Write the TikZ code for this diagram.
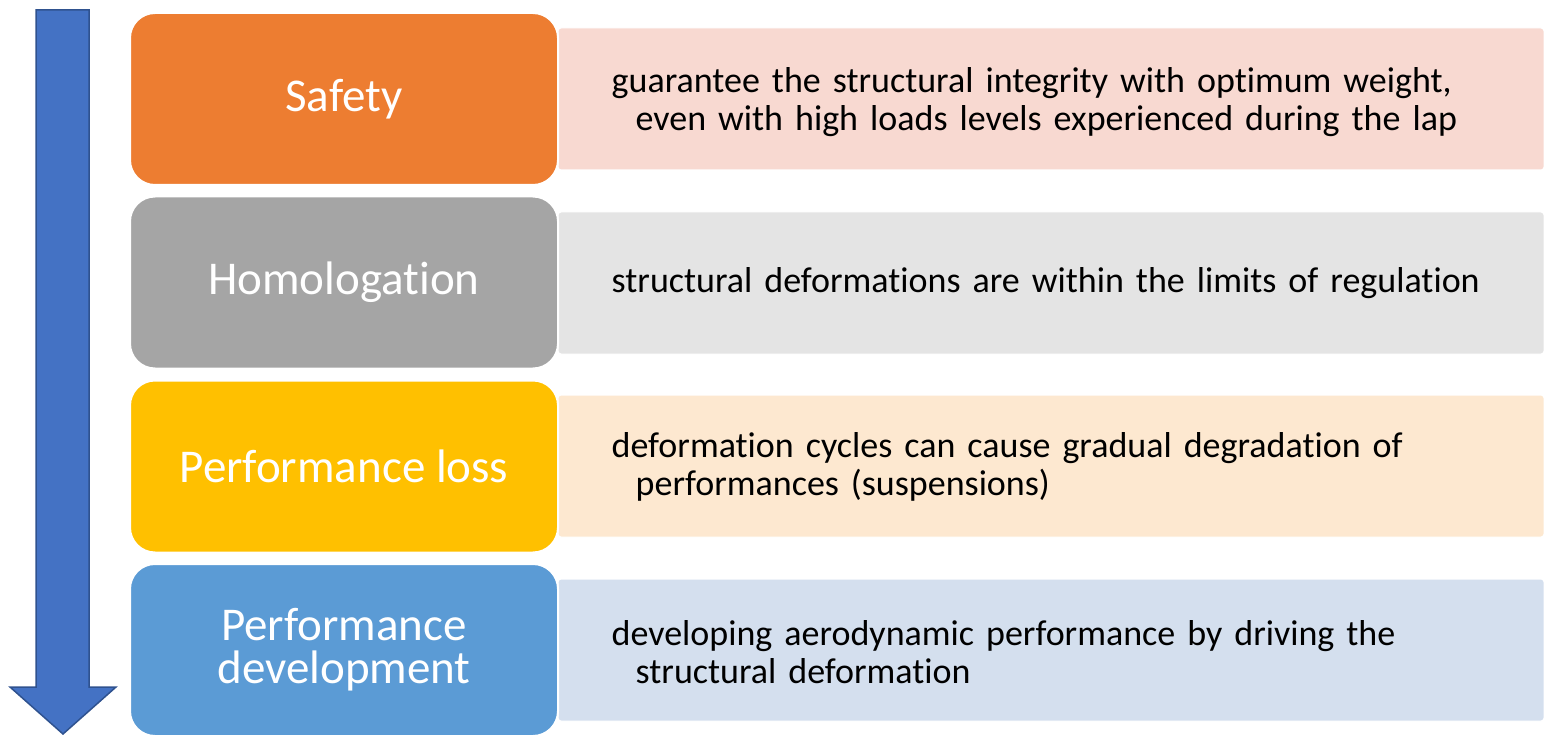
\documentclass[tikz,border=0pt]{standalone}
\usepackage{fontspec}
\setmainfont{Carlito}[Ligatures=NoCommon]

\definecolor{safetyc}{HTML}{ED7D31}
\definecolor{safetyl}{HTML}{F8D9D1}
\definecolor{homoc}{HTML}{A5A5A5}
\definecolor{homol}{HTML}{E4E4E4}
\definecolor{lossc}{HTML}{FFC000}
\definecolor{lossl}{HTML}{FDE8D0}
\definecolor{devc}{HTML}{5B9BD5}
\definecolor{devl}{HTML}{D4DFEE}
\definecolor{arrowc}{HTML}{4472C4}
\definecolor{arrowd}{HTML}{2F528F}

\tikzset{
  headbox/.style={rounded corners=25pt, draw=white, line width=2pt,
    minimum width=428pt, minimum height=172pt, inner sep=0pt,
    text=white, align=center, font=\fontsize{47}{43}\selectfont},
  notebox/.style={rounded corners=3pt, draw=white, line width=1pt,
    minimum width=986pt, minimum height=142pt},
  notetext/.style={anchor=west, text width=878pt, inner xsep=54pt,
    inner ysep=0pt, align=left, font=\fontsize{36}{37.5}\selectfont},
}

\begin{document}
\begin{tikzpicture}[x=1pt,y=-1pt]
    \useasboundingbox (0,0) rectangle (1544,735);
    \clip (0,0) rectangle (1544,735);

    % arrow down the left side
    \draw[fill=arrowc, draw=arrowd, line width=1.5pt, line join=miter]
        (36,10) -- (89,10) -- (89,687) -- (116,687) -- (63,734)
        -- (10,687) -- (36,687) -- cycle;

    % descriptions
    \node[notebox, fill=safetyl] (n1) at (1051,99) {};
    \node[notebox, fill=homol] (n2) at (1051,283) {};
    \node[notebox, fill=lossl] (n3) at (1051,466) {};
    \node[notebox, fill=devl] (n4) at (1051,650) {};

    \node[notetext] (t1) at ([yshift=-3pt]n1.west)
        {guarantee the structural integrity with optimum weight,\\
         \hspace*{24pt}even with high loads levels experienced during the lap};
    \node[notetext] (t2) at (n2.west)
        {structural deformations are within the limits of regulation};
    \node[notetext] (t3) at ([yshift=-1pt]n3.west)
        {deformation cycles can cause gradual degradation of\\
         \hspace*{24pt}performances (suspensions)};
    \node[notetext] (t4) at ([yshift=-2pt]n4.west)
        {developing aerodynamic performance by driving the\\
         \hspace*{24pt}structural deformation};

    % headings
    \node[headbox, fill=safetyc] (h1) at (344,99) {Safety};
    \node[headbox, fill=homoc] (h2) at (344,282.5) {Homologation};
    \node[headbox, fill=lossc] (h3) at (344,466.5) {Performance loss};
    \node[headbox, fill=devc] (h4) at (344,650) {Performance\\development};
\end{tikzpicture}
\end{document}
